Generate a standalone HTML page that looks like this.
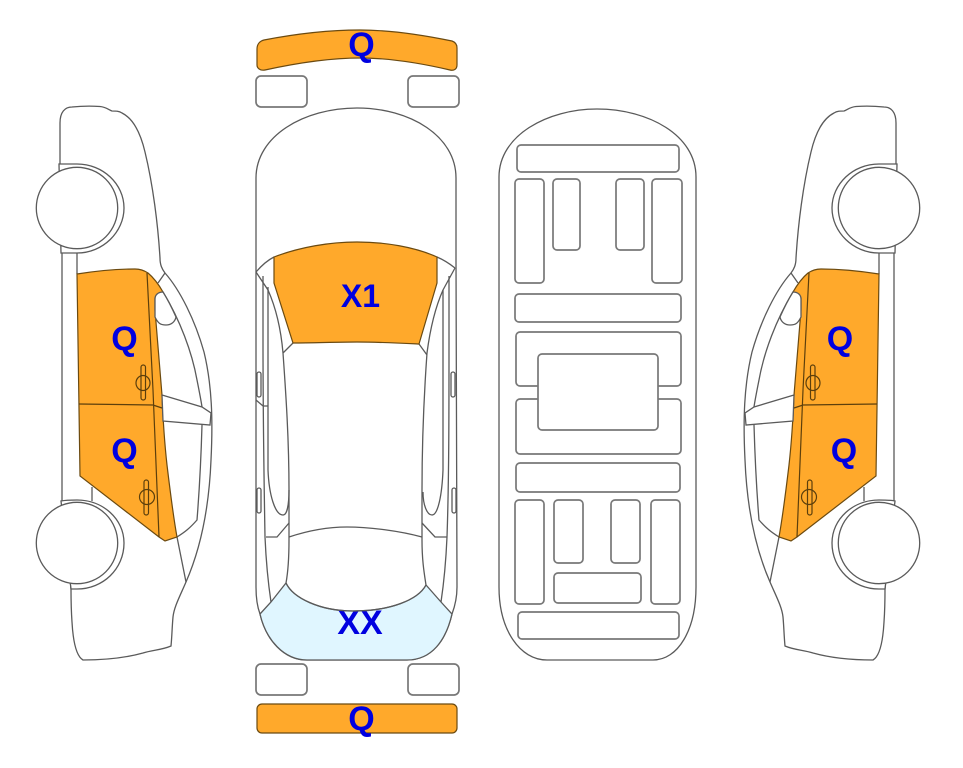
<!DOCTYPE html>
<html><head><meta charset="utf-8"><style>
html,body{margin:0;padding:0;background:#fff;width:963px;height:768px;overflow:hidden}
svg{display:block}
text{font-family:"Liberation Sans",sans-serif;font-weight:bold;font-size:34px;fill:#0000e0;text-anchor:middle}
.l{fill:none;stroke:#5a5a5a;stroke-width:1.3}
.w{fill:#fff;stroke:#5a5a5a;stroke-width:1.3}
.o{fill:#ffa92b;stroke:#6b4a10;stroke-width:1.2}
.d{fill:none;stroke:#5c3f0c;stroke-width:1.2}
.r{fill:#fff;stroke:#777;stroke-width:1.7}
</style></head><body>
<svg width="963" height="768" viewBox="0 0 963 768" xmlns="http://www.w3.org/2000/svg">
<defs>
<g id="side">
<path class="w" d="M60 170V123C60 112 65 107 72 107C82 106 92 106 100 106.500C106 107 109 110 112 111C116 111 119 111 122 113C134 119 141 135 145 152C153 185 158 225 160 258C160 265 162 269 165 273C180 290 195 320 204 352C212 385 213 420 211 460C209 510 200 550 186 582C180 596 174 607 173 617C172 628 172 636 171 646C162 650 152 650 143 653C125 658 105 660 83 660C76 656 73 640 72 622C71 608 71 598 71 589L62 501V253L60 170Z"/>
<path class="l" d="M165 273L158 283M163 292C180 320 192 352 197 380C200 395 201 400 202 407V425C201 460 199 495 197 520C190 528 185 532 177 537M177 537L186 582M92 487V501M77 253V274"/>
<path class="o" d="M77 274C96 271 116 269 135 269C141 269 145 271 148 273C154 278 159 285 163 292L155 298L155 310L162 395C163 420 165 447 167 465C170 490 173 515 177 537L165 541L159 537L80 476L77 274Z"/>
<path class="w" d="M163 292C158 292 155 295 155 299V317C158 323 160 325 166 325C171 325 175 322 176 317C172 308 168 300 163 292Z"/>
<path class="w" d="M162 395L202 407L211 413L210 425L163 421Z"/>
<path class="d" d="M147 273L153 390L159 537M79 404L153 405L162 408"/>
<rect class="d" x="141" y="365" width="4.500" height="35" rx="2.200"/>
<ellipse class="d" cx="143" cy="383" rx="7" ry="7.500"/>
<rect class="d" x="144" y="480" width="4.500" height="35" rx="2.200"/>
<ellipse class="d" cx="147" cy="497" rx="7.500" ry="7.500"/>
<path class="w" d="M59 164C62 164 70 164 77 164C103 164 124 184 124 208C124 232 103 253 77 253C71 253 65 253 61 253Z"/>
<circle class="w" cx="77" cy="208" r="40.700"/>
<path class="w" d="M61 501C66 500 70 500 77 500C103 500 124 519 124 543C124 569 103 589 77 589C75 589 73 589 71 589Z"/>
<circle class="w" cx="77" cy="543" r="40.700"/>
</g>
</defs>

<use href="#side"/>
<use href="#side" transform="translate(956 0) scale(-1 1)"/>

<!-- bumpers -->
<path class="o" d="M257 49C257 44 260 41 264 40C295 34 328 30 360 30C392 30 423 35 452 41C455 42 457 44 457 48V65C457 69 454 71 450 70C420 63 390 58 360 58C328 58 297 63 265 70C260 71 257 68 257 65Z"/>
<rect class="o" x="257" y="704" width="200" height="29" rx="5"/>
<rect class="r" x="256" y="76" width="51" height="31" rx="5"/>
<rect class="r" x="408" y="76" width="51" height="31" rx="5"/>
<rect class="r" x="256" y="664" width="51" height="31" rx="5"/>
<rect class="r" x="408" y="664" width="51" height="31" rx="5"/>

<!-- top view -->
<path class="w" d="M256 178C256 136 304 108 357 108C410 108 456 136 456 178V260L457 587C457 598 455 606 452 614C446 640 432 660 407 660H307C284 660 266 640 260 614C257 606 256 598 256 587Z"/>
<path d="M260 614L271 602L286 583C293 598 320 611 353 611C390 611 418 600 426 585L441 602L452 614C446 640 432 660 407 660H307C284 660 266 640 260 614Z" fill="#e0f6ff" stroke="#5a5a5a" stroke-width="1.300"/>
<text x="360" y="634">XX</text>
<path class="l" d="M286 583C293 598 320 611 353 611C390 611 418 600 426 585"/>
<path class="l" d="M256 272C262 265 268 260 274 257M437 257C444 260 450 264 455 268M256 272L268 290C276 308 281 330 283 353C286 395 289 440 289 490L289 540C289 560 288 572 286 583M455 268L443 290C435 308 430 330 427 353C424 395 422 440 422 490L422 540C422 560 424 572 426 585M293 343L283 353M419 344L427 355"/>
<path class="l" d="M263 276V340C263 410 264 480 265 537C266 560 268 582 271 602M268 287V470C269 495 275 515 283 515C287 515 289 505 289 490M449 276V340C449 410 449 480 447 537C446 560 444 582 441 602M443 290V470C442 495 438 515 432 515C427 515 423 505 423 492M256 400L263 406H268M289 523L277 537H266M422 523L435 537H447M289 537C310 530 330 527 347 527C370 527 400 531 422 537"/>
<rect class="l" x="257" y="372" width="4" height="25" rx="2"/>
<rect class="l" x="257" y="488" width="4" height="25" rx="2"/>
<rect class="l" x="451" y="372" width="4" height="25" rx="2"/>
<rect class="l" x="452" y="488" width="4" height="25" rx="2"/>
<path class="o" d="M274 257C300 247 330 242 357 242C385 242 415 247 437 257V283L419 344C398 343 378 342 357 342C335 342 314 343 293 343L274 283Z"/>

<!-- underbody -->
<path class="w" d="M499 177C499 135 548 109 597 109C648 109 696 135 696 177V587C696 630 678 660 653 660H547C520 660 499 630 499 587Z"/>
<rect class="r" x="517" y="145" width="162" height="27" rx="4"/>
<rect class="r" x="515" y="179" width="29" height="104" rx="4"/>
<rect class="r" x="553" y="179" width="27" height="71" rx="4"/>
<rect class="r" x="616" y="179" width="28" height="71" rx="4"/>
<rect class="r" x="652" y="179" width="30" height="104" rx="4"/>
<rect class="r" x="515" y="294" width="166" height="28" rx="4"/>
<rect class="r" x="516" y="332" width="165" height="54" rx="4"/>
<rect class="r" x="516" y="399" width="165" height="55" rx="4"/>
<rect class="r" x="538" y="354" width="120" height="76" rx="4"/>
<rect class="r" x="516" y="463" width="164" height="29" rx="4"/>
<rect class="r" x="515" y="500" width="29" height="104" rx="4"/>
<rect class="r" x="554" y="500" width="29" height="63" rx="4"/>
<rect class="r" x="611" y="500" width="29" height="63" rx="4"/>
<rect class="r" x="651" y="500" width="29" height="104" rx="4"/>
<rect class="r" x="554" y="573" width="87" height="30" rx="4"/>
<rect class="r" x="518" y="612" width="161" height="27" rx="4"/>

<!-- labels -->
<text x="361.500" y="56">Q</text>
<text x="361.500" y="730">Q</text>
<text x="360.500" y="307" style="font-size:32px">X1</text>
<text x="124.500" y="350">Q</text>
<text x="124.500" y="462">Q</text>
<text x="840" y="350">Q</text>
<text x="844" y="462">Q</text>
</svg>
</body></html>
